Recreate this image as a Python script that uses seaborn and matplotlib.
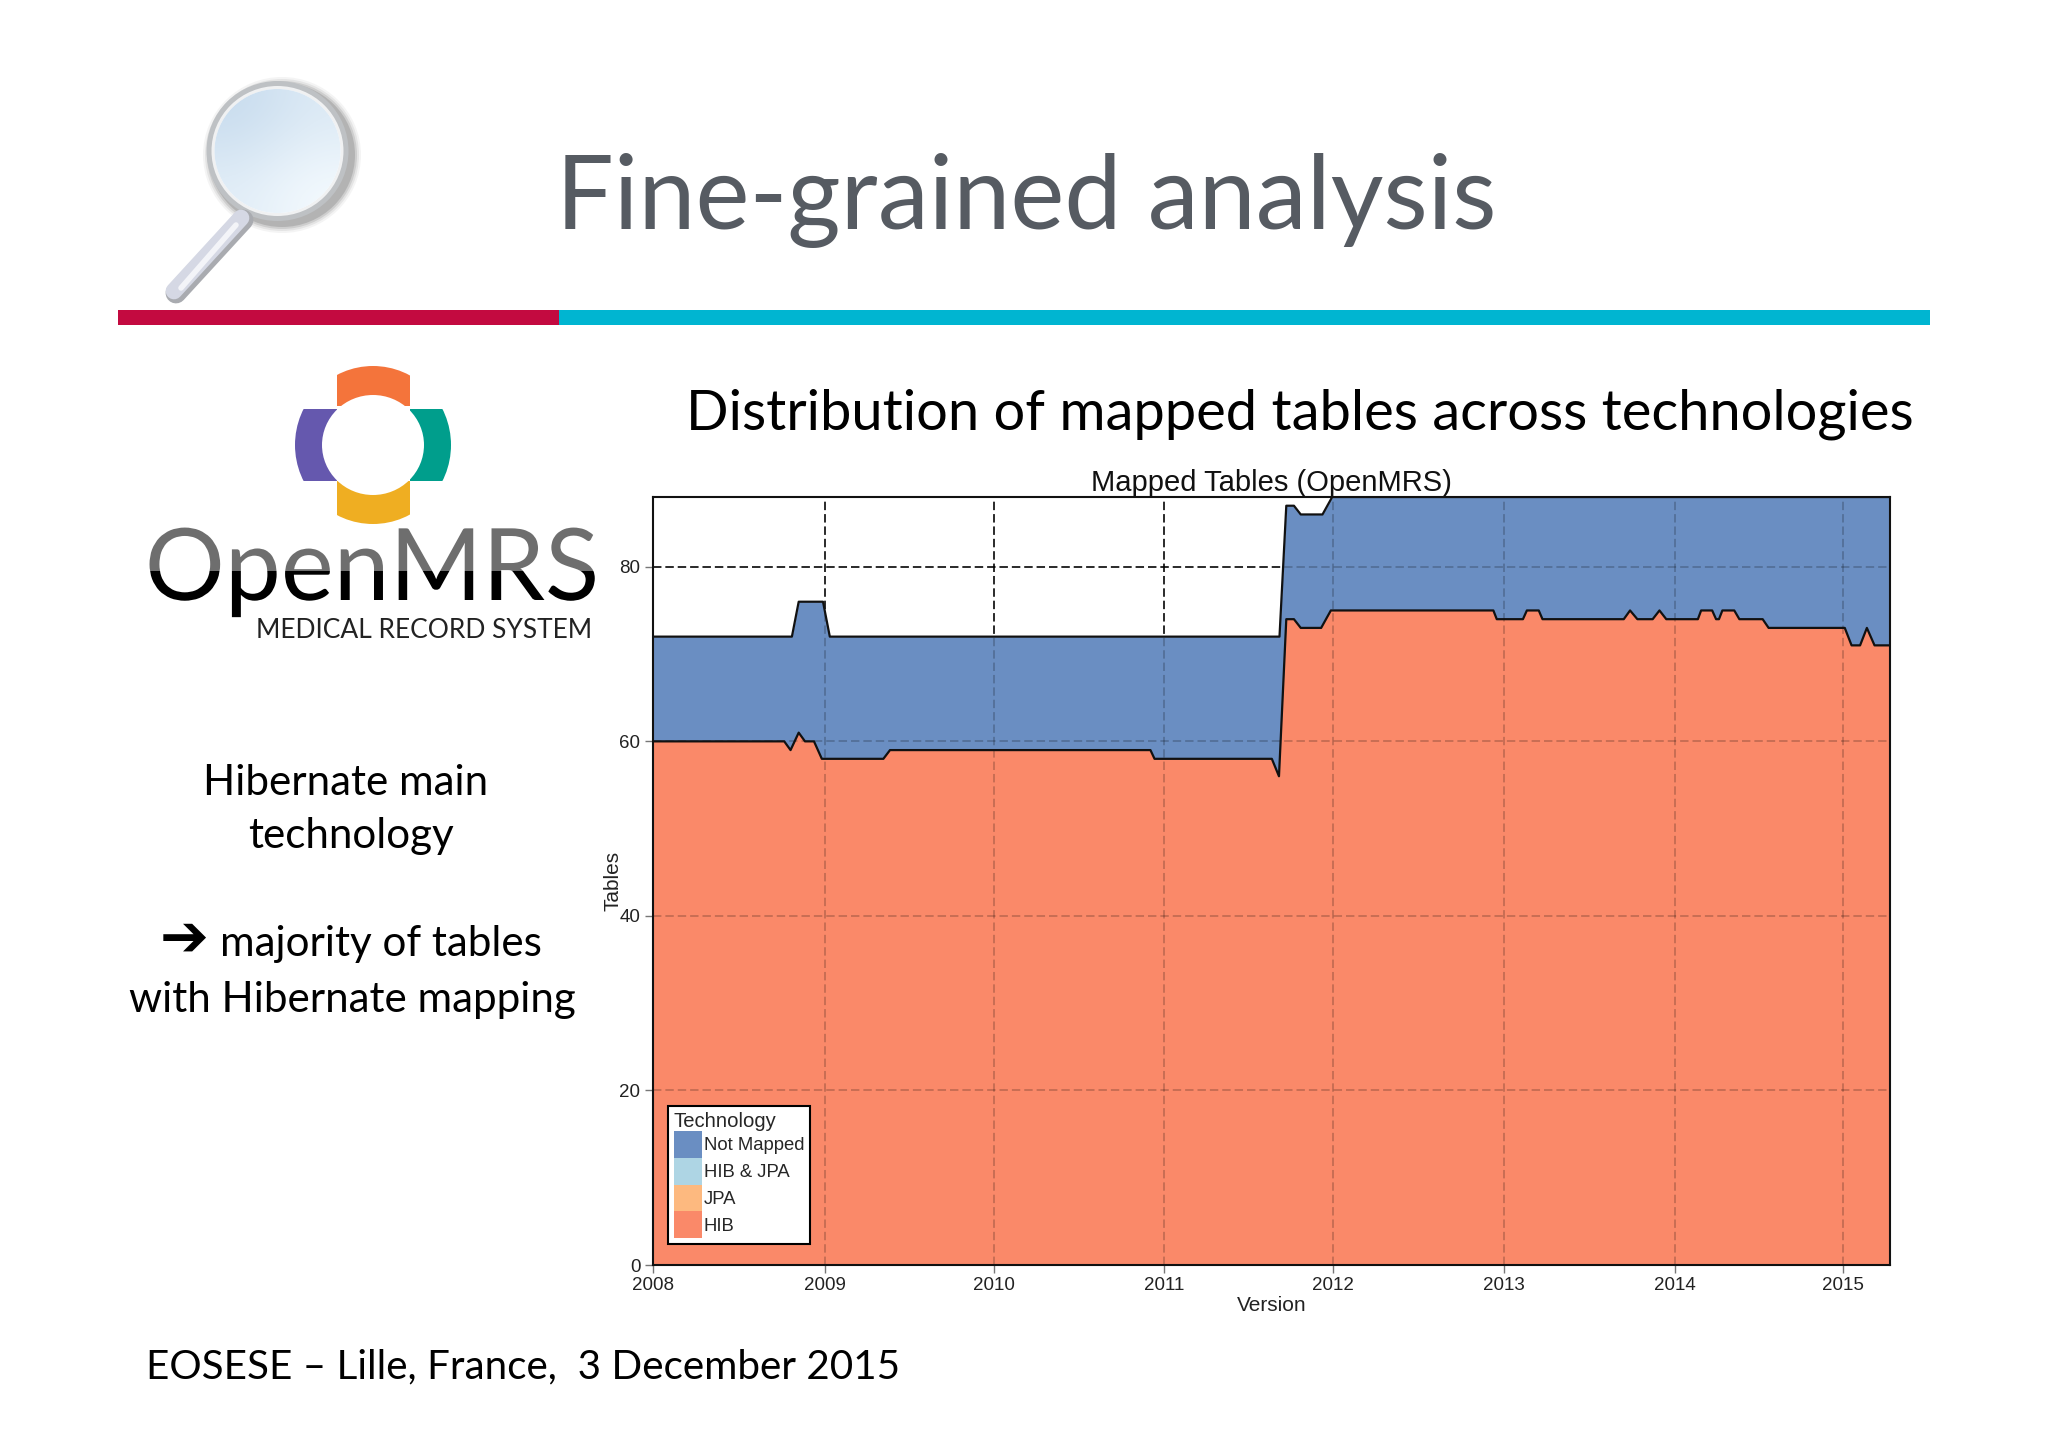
import numpy as np
import seaborn as sns
import matplotlib
matplotlib.use('Agg')
import matplotlib.pyplot as plt
import matplotlib.patheffects as pe
from matplotlib.colors import LinearSegmentedColormap
from matplotlib.patches import Ellipse, Rectangle, Patch

# values: version date as decimal year, number of tables
hib_x = [2008, 2008.772, 2008.809, 2008.857, 2008.894, 2008.947, 2008.993, 2009.355, 2009.394,
         2010.926, 2010.95, 2011.64, 2011.682, 2011.725, 2011.77, 2011.81, 2011.93, 2011.987,
         2012.943, 2012.963, 2013.117, 2013.14, 2013.21, 2013.232, 2013.71, 2013.747, 2013.79,
         2013.88, 2013.92, 2013.96, 2014.146, 2014.165, 2014.23, 2014.253, 2014.27, 2014.29,
         2014.36, 2014.39, 2014.527, 2014.562, 2015.01, 2015.05, 2015.1, 2015.14, 2015.185, 2015.276]
hib_y = [60, 60, 59, 61, 60, 60, 58, 58, 59,
         59, 58, 58, 56, 74, 74, 73, 73, 75,
         75, 74, 74, 75, 75, 74, 74, 75, 74,
         74, 75, 74, 74, 75, 75, 74, 74, 75,
         75, 74, 74, 73, 73, 71, 71, 73, 71, 71]
total_x = [2008, 2008.817, 2008.857, 2009.0, 2009.04, 2011.685, 2011.725, 2011.77, 2011.81,
           2011.938, 2011.995, 2015.276]
total_y = [72, 72, 76, 76, 72, 72, 87, 87, 86, 86, 88, 88]

version_ticks = [2008, 2009.012, 2010.004, 2011.006, 2012, 2013.006, 2014.01, 2015]
version_labels = ['2008', '2009', '2010', '2011', '2012', '2013', '2014', '2015']
table_ticks = [0, 20, 40, 60, 80]
legend_labels = ['Not Mapped', 'HIB & JPA', 'JPA', 'HIB']
legend_colors = ['#6A8EC2', '#AED5E4', '#FDB97F', '#FA8969']

sns.set_theme(style='ticks', font='Liberation Sans')
plt.rcParams['font.family'] = ['Liberation Sans', 'DejaVu Sans']

W, H = 2048, 1447
fig = plt.figure(figsize=(W / 100, H / 100), dpi=100, facecolor='white')

# slide furniture, drawn in pixel coordinates
slide = fig.add_axes([0, 0, 1, 1])
slide.set_xlim(0, W)
slide.set_ylim(H, 0)
slide.axis('off')

slide.add_patch(Rectangle((118, 310), 441, 15, color='#C30A40', lw=0))
slide.add_patch(Rectangle((559, 310), 1371, 15, color='#00B5D1', lw=0))

# magnifying glass
slide.plot([243, 176], [220, 293], color='#A9ABB0', lw=15, solid_capstyle='round')
slide.plot([241, 174], [218, 291], color='#D5D8E4', lw=12, solid_capstyle='round')
slide.plot([236, 181], [225, 288], color='#F3F4F8', lw=4, solid_capstyle='round')
for grow, alpha in [(8, 0.08), (6, 0.12), (4, 0.2), (2, 0.3)]:
    slide.add_patch(Ellipse((282, 155), 142 + 2 * grow, 140 + 2 * grow, color='#777777', alpha=alpha, lw=0))
slide.add_patch(Ellipse((277.5, 151), 142, 140, color='#BEC1C4', lw=0))
slide.add_patch(Ellipse((277.5, 151), 132, 130, color='#F0F1F2', lw=0))
lens = Ellipse((277.5, 151), 126, 124, color='white', lw=0)
slide.add_patch(lens)
gradient = np.array([[0.0, 0.45], [0.6, 1.0]])
img = slide.imshow(gradient, extent=(214, 341, 214, 88), aspect='auto', interpolation='bicubic', zorder=1.5,
                   cmap=LinearSegmentedColormap.from_list('lens', ['#C8DCEE', '#F4FAFE']))
img.set_clip_path(lens)
slide.set_xlim(0, W)
slide.set_ylim(H, 0)

# OpenMRS logo
arm_shapes = [((337, 360), 73, 46, '#F4743B'), ((290, 409), 47, 72, '#6558AE'),
              ((410, 409), 47, 72, '#009E8C'), ((337, 481), 73, 48, '#EFAE22')]
for corner, w, h, colour in arm_shapes:
    outer = Ellipse((373, 445), 156, 158, color=colour, lw=0)
    slide.add_patch(outer)
    outer.set_clip_path(Rectangle(corner, w, h, transform=slide.transData))
slide.add_patch(Ellipse((373, 445), 102, 100, color='white', lw=0))

# two-tone wordmark, white stroke thins the letters down
for colour, top, height in [('#6E6E6E', 500, 71), ('black', 571, 70)]:
    logo = slide.text(372, 600, 'OpenMRS', fontsize=72, family='Lato', color=colour,
                      ha='center', va='baseline', clip_on=True,
                      path_effects=[pe.withStroke(linewidth=1.5, foreground='white')])
    logo.set_clip_path(Rectangle((100, top), 520, height, transform=slide.transData))
slide.text(424, 630, 'MEDICAL RECORD SYSTEM', fontsize=19, family='Lato', color='#222222', ha='center', va='center')

# slide text
slide.text(1026, 201, 'Fine-grained analysis', fontsize=73.6, family='Lato', color='#565B62', ha='center', va='center')
slide.text(1300, 414, 'Distribution of mapped tables across technologies', fontsize=40.3, family='Lato',
           color='black', ha='center', va='center')
slide.text(346, 783, 'Hibernate main', fontsize=30.3, family='Lato', color='black', ha='center', va='center')
slide.text(351, 836, 'technology', fontsize=30.3, family='Lato', color='black', ha='center', va='center')
slide.text(184, 939, '\u2794', fontsize=42, family='DejaVu Sans', color='black', ha='center', va='center')
slide.text(381, 944, 'majority of tables', fontsize=30.3, family='Lato', color='black', ha='center', va='center')
slide.text(352, 1000, 'with Hibernate mapping', fontsize=30.3, family='Lato', color='black', ha='center', va='center')
slide.text(146, 1367, 'EOSESE \u2013 Lille, France,  3 December 2015', fontsize=29.1, family='Lato', color='black',
           ha='left', va='center')

# chart
ax = fig.add_axes([653 / W, 1 - 1265 / H, 1237 / W, 768 / H])
ax.patch.set_alpha(0)
ax.set_xlim(2008, 2015.276)
ax.set_ylim(0, 88)

grid_dash = (0, (5.5, 2.6))
for x in version_ticks:
    ax.axvline(x, color='black', lw=1.1, ls=grid_dash, zorder=1)
for y in table_ticks[1:]:
    ax.axhline(y, color='black', lw=1.1, ls=grid_dash, zorder=1)

ax.fill_between(total_x, 0, total_y, color=legend_colors[0], lw=0, zorder=2)
ax.fill_between(hib_x, 0, hib_y, color=legend_colors[3], lw=0, zorder=2)
sns.lineplot(x=total_x, y=total_y, color='#111111', lw=1.6, estimator=None, sort=False, ax=ax, zorder=4)
sns.lineplot(x=hib_x, y=hib_y, color='#111111', lw=1.6, estimator=None, sort=False, ax=ax, zorder=4)

# grid shows faintly through the fills
for x in version_ticks:
    ax.axvline(x, color='black', lw=1.1, ls=grid_dash, alpha=0.25, zorder=3)
for y in table_ticks[1:]:
    ax.axhline(y, color='black', lw=1.1, ls=grid_dash, alpha=0.25, zorder=3)

ax.set_xticks(version_ticks, version_labels)
ax.set_yticks(table_ticks)
ax.tick_params(axis='both', labelsize=13.5, length=6, width=1, color='#777777', labelcolor='#222222', pad=3)
ax.set_xlabel('Version', fontsize=15, labelpad=1, color='#222222')
ax.set_ylabel('Tables', fontsize=15, labelpad=-2, color='#222222')
ax.set_title('Mapped Tables (OpenMRS)', fontsize=21, pad=4, color='#111111')
for side in ax.spines.values():
    side.set_linewidth(1.5)
    side.set_color('#111111')
    side.set_zorder(6)

handles = [Patch(facecolor=c, edgecolor='none') for c in legend_colors]
leg = ax.legend(handles=handles, labels=legend_labels, title='Technology', alignment='left',
                loc='lower left', bbox_to_anchor=(15 / 1237, 21 / 768), borderaxespad=0,
                fontsize=13.3, title_fontsize=14.6, labelspacing=0, handleheight=1.85, handlelength=1.5,
                handletextpad=0.12, borderpad=0.32, fancybox=False, framealpha=1, edgecolor='black')
leg.get_frame().set_linewidth(1.5)
leg.set_zorder(7)

fig.savefig('out.png', dpi=100)
